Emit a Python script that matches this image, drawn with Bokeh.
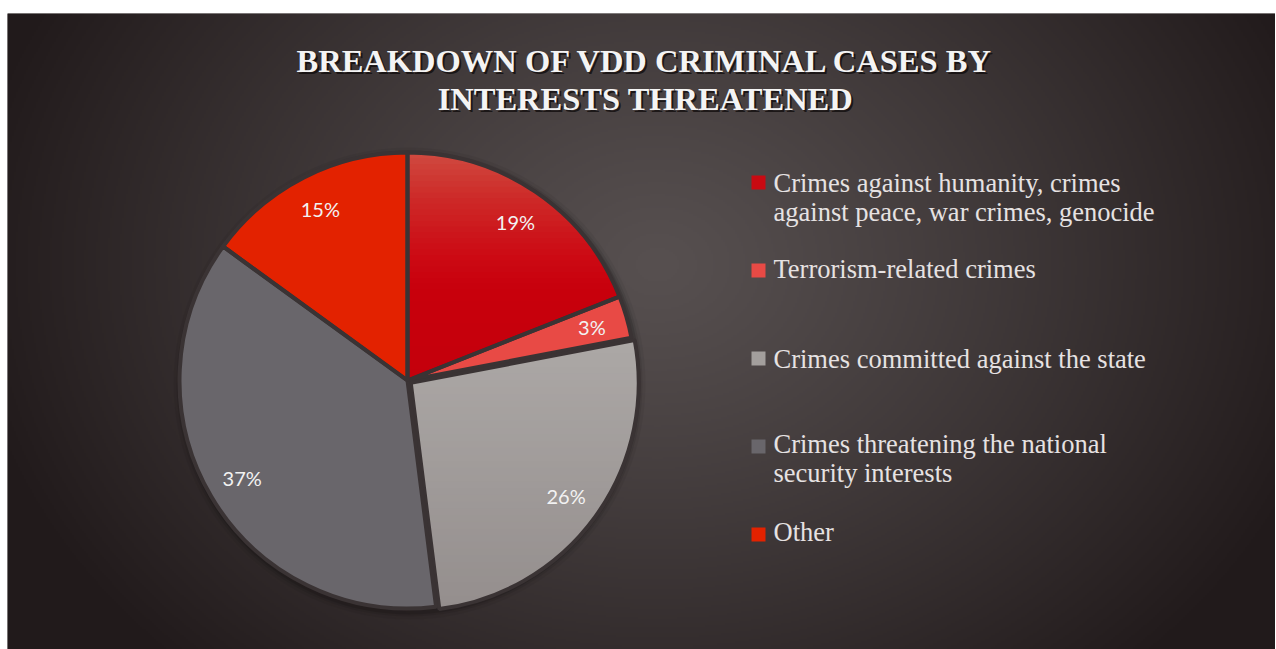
import numpy as np
from bokeh.plotting import figure
from bokeh.models import Range1d, Spacer
from bokeh.layouts import column, row
from bokeh.core.properties import value
from bokeh.embed import file_html
from bokeh.resources import INLINE

# ---- data ----
title_lines = ["BREAKDOWN OF VDD CRIMINAL CASES BY", "INTERESTS THREATENED"]
categories = [
    "Crimes against humanity, crimes\nagainst peace, war crimes, genocide",
    "Terrorism-related crimes",
    "Crimes committed against the state",
    "Crimes threatening the national\nsecurity interests",
    "Other",
]
shares = [19, 3, 26, 37, 15]
slice_colors = ["#c90a12", "#e84a45", "#a39f9d", "#69666b", "#e32200"]
# vertical shading of some slices: (slice index, [(fraction from top, colour), ...])
shading = {
    0: [(0.0, "#d04a40"), (0.2, "#cd2a28"), (0.45, "#cc0a14"), (0.6, "#c8000c"), (1.0, "#c4000c")],
    2: [(0.0, "#aca8a6"), (1.0, "#948e8d")],
}

W, H = 1268, 636
p = figure(width=W, height=H, x_range=Range1d(0, W), y_range=Range1d(0, H),
           output_backend="svg", toolbar_location=None, min_border=0)
p.axis.visible = False
p.grid.visible = False
p.outline_line_color = None
p.background_fill_color = "#2a2223"
p.border_fill_color = "#2a2223"

# ---- radial gradient background ----
ny, nx = H // 2, W // 2
xs = np.linspace(0, W, nx)
ys = np.linspace(0, H, ny)
X, Y = np.meshgrid(xs, ys)
cx, cy = 650.0, 385.0
d = np.sqrt(((X - cx) / 700.0) ** 2 + ((Y - cy) / 560.0) ** 2)
t = np.clip(d, 0, 1) ** 1.15
c0 = np.array([0x57, 0x50, 0x50], dtype=float)
c1 = np.array([0x21, 0x1a, 0x1b], dtype=float)
img = np.empty((ny, nx), dtype=np.uint32)
view = img.view(dtype=np.uint8).reshape((ny, nx, 4))
for k in range(3):
    view[:, :, k] = (c0[k] + (c1[k] - c0[k]) * t).astype(np.uint8)
view[:, :, 3] = 255
p.image_rgba(image=[img], x=0, y=0, dw=W, dh=H)

# ---- pie ----
pcx, pcy, R = 400.0, 269.0, 228.0
explode = [0, 0, 4, 0, 0]
total = float(sum(shares))
fr = np.array(shares) / total
cum = np.concatenate([[0], np.cumsum(fr)])
starts = np.pi / 2 - 2 * np.pi * cum[:-1]
ends = np.pi / 2 - 2 * np.pi * cum[1:]
mids = (starts + ends) / 2
wx = pcx + np.array(explode) * np.cos(mids)
wy = pcy + np.array(explode) * np.sin(mids)

# soft shadow
for k, a in [(8, 0.05), (5, 0.08), (3, 0.12)]:
    p.circle(x=pcx + 2, y=pcy - 3, radius=R + k, fill_color="black", fill_alpha=a, line_color=None)

p.wedge(x=wx, y=wy, radius=R, start_angle=starts, end_angle=ends, direction="clock",
        fill_color=slice_colors, line_color=None)


def hex2rgb(h):
    h = h.lstrip("#")
    return np.array([int(h[i:i + 2], 16) for i in (0, 2, 4)], dtype=float)


def interp_color(stops, f):
    for (f0, a), (f1, b) in zip(stops[:-1], stops[1:]):
        if f <= f1:
            u = 0 if f1 == f0 else (f - f0) / (f1 - f0)
            c = hex2rgb(a) + (hex2rgb(b) - hex2rgb(a)) * u
            return "#%02x%02x%02x" % tuple(int(round(v)) for v in c)
    return stops[-1][1]


def clip(poly, yv, keep_above):
    out = []
    n = len(poly)
    for i in range(n):
        P, Q = poly[i], poly[(i + 1) % n]
        inP = P[1] >= yv if keep_above else P[1] <= yv
        inQ = Q[1] >= yv if keep_above else Q[1] <= yv
        if inP:
            out.append(P)
        if inP != inQ:
            tt = (yv - P[1]) / (Q[1] - P[1])
            out.append((P[0] + tt * (Q[0] - P[0]), yv))
    return out


band_xs, band_ys, band_cols = [], [], []
for idx, stops in shading.items():
    arc = np.linspace(starts[idx], ends[idx], 80)
    poly = [(wx[idx], wy[idx])] + [(wx[idx] + R * np.cos(a), wy[idx] + R * np.sin(a)) for a in arc]
    ytop = max(q[1] for q in poly)
    ybot = min(q[1] for q in poly)
    nb = 40
    edges = np.linspace(ytop, ybot, nb + 1)
    for b in range(nb):
        hi, lo = edges[b], edges[b + 1] - 1.0
        piece = clip(clip(poly, hi, False), lo, True)
        if len(piece) < 3:
            continue
        band_xs.append([q[0] for q in piece])
        band_ys.append([q[1] for q in piece])
        band_cols.append(interp_color(stops, (b + 0.5) / nb))
p.patches(xs=band_xs, ys=band_ys, fill_color=band_cols, line_color=None)

# slice outlines (gaps)
p.wedge(x=wx, y=wy, radius=R, start_angle=starts, end_angle=ends, direction="clock",
        fill_alpha=0, line_color="#3a3334", line_width=4)

lr = 192.0
lab_x = wx + lr * np.cos(mids)
lab_y = wy + lr * np.sin(mids)
p.text(x=lab_x, y=lab_y, text=[f"{s}%" for s in shares], text_align="center",
       text_baseline="middle", text_font=value("Lato"), text_font_size="20px",
       text_color="#f2f2f2")

# ---- title with shadow ----
tx = 638
ty = [589, 551]
p.text(x=[tx + 2, tx + 2], y=[v - 2 for v in ty], text=title_lines, text_align="center",
       text_baseline="alphabetic", text_font=value("Liberation Serif"), text_font_size="32.5px",
       text_font_style="bold", text_color="#0e0a0a", text_alpha=0.75)
p.text(x=[tx, tx], y=ty, text=title_lines, text_align="center",
       text_baseline="alphabetic", text_font=value("Liberation Serif"), text_font_size="32.5px",
       text_font_style="bold", text_color="#f4f4f4")

# ---- legend (manual) ----
mk_x = 751
mk_y = [467, 379, 291, 203, 115]
text_x = 766
first_base = [467, 381, 291, 206, 118]
line_h = 29
p.rect(x=[mk_x] * len(categories), y=mk_y, width=14, height=14,
       fill_color=slice_colors, line_color=None)
lx, ly, lt = [], [], []
for i, lab in enumerate(categories):
    for j, line in enumerate(lab.split("\n")):
        lx.append(text_x)
        ly.append(first_base[i] - j * line_h)
        lt.append(line)
p.text(x=lx, y=ly, text=lt, text_align="left", text_baseline="alphabetic",
       text_font=value("Liberation Serif"), text_font_size="26.5px", text_color="#e6e2e2")

layout = column(Spacer(height=13), row(Spacer(width=7), p, spacing=0), spacing=0)
html = file_html(layout, INLINE)
html = html.replace("<head>", "<head><style>html,body{overflow:hidden}</style>", 1)
open("out.html", "w").write(html)
